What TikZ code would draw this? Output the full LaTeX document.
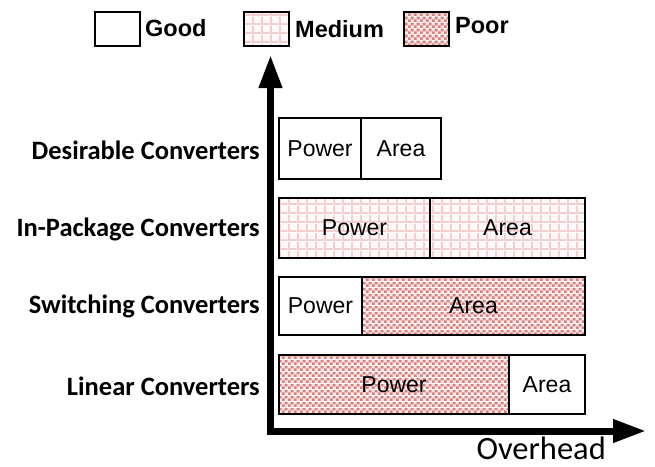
\documentclass[tikz,border=0pt]{standalone}
\usepackage{fontspec}
\setmainfont{Liberation Sans}
\newfontfamily\calib{Carlito}
\usetikzlibrary{arrows.meta,patterns.meta}

\definecolor{medline}{RGB}{242,206,206}
\definecolor{medcell}{RGB}{255,248,248}
\definecolor{poorcell}{RGB}{214,128,126}
\definecolor{poorbg}{RGB}{250,232,232}

% light grid: pale cells separated by pink lines
\tikzdeclarepattern{
  name=medgrid,
  type=colored,
  bounding box={(0pt,0pt) and (9pt,9pt)},
  tile size={(9pt,9pt)},
  code={
    \fill[medcell] (0pt,0pt) rectangle (9pt,9pt);
    \fill[medline] (0pt,0pt) rectangle (2pt,9pt);
    \fill[medline] (0pt,0pt) rectangle (9pt,2pt);
  }
}
% dense checkerboard
\tikzdeclarepattern{
  name=poorcheck,
  type=colored,
  bounding box={(0pt,0pt) and (6pt,6pt)},
  tile size={(6pt,6pt)},
  code={
    \fill[poorbg] (0pt,0pt) rectangle (6pt,6pt);
    \fill[poorcell] (0pt,0pt) rectangle (3pt,3pt);
    \fill[poorcell] (3pt,3pt) rectangle (6pt,6pt);
  }
}

\tikzset{
  seg/.style={draw=black, line width=1.5pt, inner sep=0pt, outer sep=0pt,
    anchor=north west, font=\fontsize{23}{26}\selectfont},
  good/.style={seg, fill=white},
  medium/.style={seg, pattern=medgrid},
  poor/.style={seg, pattern=poorcheck},
  keybox/.style={draw=black, line width=1.5pt, inner sep=0pt, outer sep=0pt,
    minimum width=45pt, minimum height=34pt, anchor=north west},
  keytext/.style={anchor=base west, inner sep=0pt, font=\fontsize{23.5}{26}\selectfont\bfseries},
  rowlabel/.style={anchor=east, inner sep=0pt, font=\fontsize{26.5}{30}\selectfont\calib\bfseries},
  axis/.style={line width=7pt, line join=miter,
    {Triangle[width=22pt,length=33pt]}-{Triangle[width=22pt,length=33pt]}}
}

\begin{document}
\begin{tikzpicture}[x=1pt,y=-1pt]
\useasboundingbox (0,0) rectangle (655,466);

% legend
\node[keybox, fill=white] (kgood) at (95,12) {};
\node[keytext] (tgood) at (145,36) {Good};
\node[keybox, pattern=medgrid] (kmed) at (244,12) {};
\node[keytext] (tmed) at (295,37) {Medium};
\node[keybox, pattern=poorcheck] (kpoor) at (404,12) {};
\node[keytext] (tpoor) at (455,33) {Poor};

% axes
\coordinate (o) at (270.5,431);
\coordinate (ytip) at (270.5,55);
\coordinate (xtip) at (646,431);
\draw[axis] (ytip) -- (o) -- (xtip);
\node[anchor=base east, inner sep=0pt, font=\fontsize{32.5}{34}\selectfont\calib] (xlab) at (606,459) {Overhead};

% Desirable converters
\node[good, minimum width=82pt, minimum height=61pt] (dpow) at (279,118) {Power};
\node[good, minimum width=80pt, minimum height=61pt] (darea) at (dpow.north east) {Area};
\node[rowlabel] (dlab) at (260,150) {Desirable Converters};

% In-package converters
\node[medium, minimum width=151pt, minimum height=60pt] (ipow) at (279,198) {Power};
\node[medium, minimum width=155pt, minimum height=60pt] (iarea) at (ipow.north east) {Area};
\node[rowlabel] (ilab) at (260,229) {In-Package Converters};

% Switching converters
\node[good, minimum width=83pt, minimum height=58pt] (spow) at (279,277) {Power};
\node[poor, minimum width=223pt, minimum height=58pt] (sarea) at (spow.north east) {Area};
\node[rowlabel] (slab) at (260,306) {Switching Converters};

% Linear converters
\node[poor, minimum width=230pt, minimum height=59pt] (lpow) at (279,355) {Power};
\node[good, minimum width=76pt, minimum height=59pt] (larea) at (lpow.north east) {Area};
\node[rowlabel] (llab) at (260,386) {Linear Converters};
\end{tikzpicture}
\end{document}
